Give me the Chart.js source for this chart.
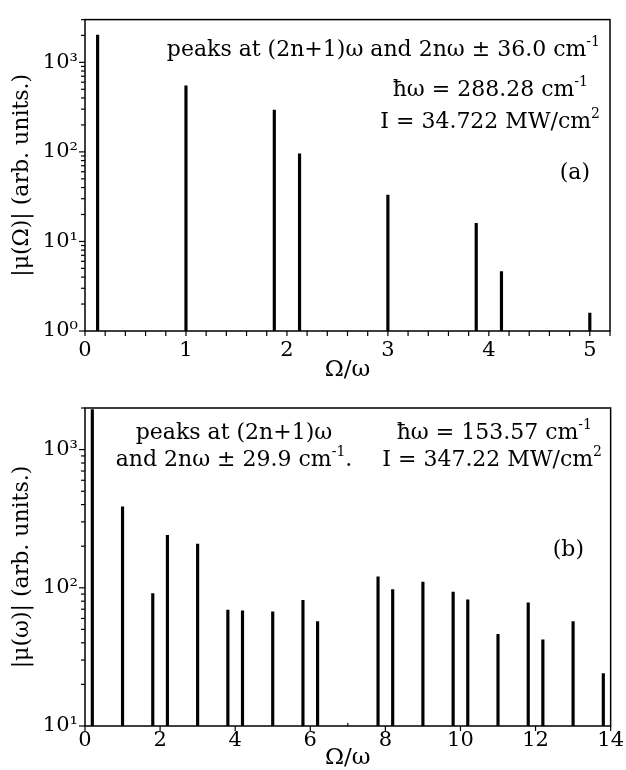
<!DOCTYPE html>
<html>
<head>
<meta charset="utf-8">
<script src="https://cdn.jsdelivr.net/npm/chart.js@4.4.1/dist/chart.umd.min.js"></script>
<style>
  html, body { margin: 0; padding: 0; background: #fff; }
  canvas { position: absolute; left: 0; }
  #chartA { top: 0; }
  #chartB { top: 385px; }
</style>
</head>
<body>
<canvas id="chartA" width="626" height="385"></canvas>
<canvas id="chartB" width="626" height="385"></canvas>
<script>
// panel (a): peak positions (Omega/omega) and heights |mu|
const peaksA = [0.125, 1, 1.875, 2.125, 3, 3.875, 4.125, 5];
const heightsA = [2020, 545, 293, 95, 33, 15.9, 4.6, 1.59];
const xTicksA = [0, 1, 2, 3, 4, 5];
const yTicksA = [1, 10, 100, 1000];
const yLabelsA = ["10⁰", "10¹", "10²", "10³"];

// panel (b)
const peaksB = [0.195, 1, 1.805, 2.195, 3, 3.805, 4.195, 5, 5.805, 6.195,
                7.805, 8.195, 9, 9.805, 10.195, 11, 11.805, 12.195, 13, 13.805];
const heightsB = [1950, 385, 91, 240, 207, 69, 68, 67, 81, 57,
                  120, 97, 110, 93, 82, 46, 78, 42, 57, 24];
const xTicksB = [0, 2, 4, 6, 8, 10, 12, 14];
const yTicksB = [10, 100, 1000];
const yLabelsB = ["10¹", "10²", "10³"];

const FONT = "'DejaVu Serif', 'Liberation Serif', serif";

// draws text with ^{...} superscripts
function drawRich(ctx, text, x, y, align, size) {
  const parts = [];
  text.split(/(\^\{[^}]*\})/).forEach(s => {
    if (!s) return;
    if (s.startsWith("^{")) parts.push({ t: s.slice(2, -1), sup: true });
    else parts.push({ t: s, sup: false });
  });
  const supSize = Math.round(size * 0.62);
  let w = 0;
  parts.forEach(p => {
    ctx.font = (p.sup ? supSize : size) + "px " + FONT;
    p.w = ctx.measureText(p.t).width;
    w += p.w;
  });
  let cx = align === "right" ? x - w : align === "center" ? x - w / 2 : x;
  ctx.textAlign = "left";
  ctx.textBaseline = "middle";
  parts.forEach(p => {
    ctx.font = (p.sup ? supSize : size) + "px " + FONT;
    ctx.fillText(p.t, cx, p.sup ? y - size * 0.36 : y);
    cx += p.w;
  });
}

const framePlugin = {
  id: "frame",
  afterDraw(chart, args, p) {
    const { ctx, chartArea: a } = chart;
    const xs = chart.scales.x, ys = chart.scales.y;
    ctx.save();
    ctx.strokeStyle = "#000";
    ctx.fillStyle = "#000";

    // x ticks, hanging below the axis
    ctx.lineWidth = 1.2;
    for (let k = 0; k * p.minorStep <= p.xMax + 1e-9; k++) {
      const v = k * p.minorStep;
      const px = xs.getPixelForValue(v);
      const major = Math.abs(v / p.majorStep - Math.round(v / p.majorStep)) < 1e-6;
      ctx.beginPath();
      if (major || p.minorOut) {
        ctx.moveTo(px, a.bottom);
        ctx.lineTo(px, a.bottom + 5);
      } else {
        ctx.moveTo(px, a.bottom);
        ctx.lineTo(px, a.bottom - 3);
      }
      ctx.stroke();
    }
    // y ticks (log), pointing outward
    for (let d = Math.floor(Math.log10(p.yMin)); d <= Math.ceil(Math.log10(p.yMax)); d++) {
      for (let m = 1; m <= 9; m++) {
        const v = m * Math.pow(10, d);
        if (v < p.yMin * 0.999 || v > p.yMax) continue;
        const py = ys.getPixelForValue(v);
        ctx.beginPath();
        ctx.moveTo(a.left, py);
        ctx.lineTo(a.left - (m === 1 ? 6 : 4), py);
        ctx.stroke();
      }
    }

    // frame
    ctx.lineWidth = 1.5;
    ctx.strokeRect(a.left, a.top, a.right - a.left, a.bottom - a.top);

    // axis titles
    ctx.font = "23px " + FONT;
    ctx.textAlign = "center";
    ctx.textBaseline = "middle";
    ctx.fillText("Ω/ω", (a.left + a.right) / 2, p.xTitleY);
    ctx.save();
    ctx.translate(p.yTitleX, (a.top + a.bottom) / 2);
    ctx.rotate(-Math.PI / 2);
    ctx.font = "22px " + FONT;
    ctx.fillText(p.yTitle, 0, 0);
    ctx.restore();

    // annotations
    p.notes.forEach(n => drawRich(ctx, n.text, n.x, n.y, n.align, 22));
    ctx.restore();
  }
};

function makePanel(id, cfg) {
  return new Chart(document.getElementById(id), {
    type: "bar",
    data: {
      datasets: [{
        data: cfg.xs.map((x, i) => ({ x: x, y: cfg.ys[i] })),
        backgroundColor: "#000",
        borderWidth: 0,
        barThickness: 2.5
      }]
    },
    options: {
      responsive: false,
      animation: false,
      layout: { padding: { top: cfg.top, right: cfg.right, left: 0, bottom: 0 } },
      plugins: {
        legend: { display: false },
        tooltip: { enabled: false },
        frame: cfg.frame
      },
      scales: {
        x: {
          type: "linear",
          min: 0,
          max: cfg.frame.xMax,
          offset: false,
          grid: { display: false, drawTicks: false },
          border: { display: false },
          afterBuildTicks: s => { s.ticks = cfg.xTicks.map(v => ({ value: v })); },
          afterFit: s => { s.height = cfg.xAxisHeight; },
          ticks: {
            color: "#000",
            font: { family: FONT, size: 21 },
            padding: cfg.xTickPad,
            maxRotation: 0,
            autoSkip: false
          }
        },
        y: {
          type: "logarithmic",
          min: cfg.frame.yMin,
          max: cfg.frame.yMax,
          grid: { display: false, drawTicks: false },
          border: { display: false },
          afterBuildTicks: s => { s.ticks = cfg.yTicks.map(v => ({ value: v, major: true })); },
          afterFit: s => { s.width = 85; },
          ticks: {
            color: "#000",
            font: { family: FONT, size: 21 },
            padding: 7,
            callback: (v, i) => cfg.yLabels[i]
          }
        }
      }
    },
    plugins: [framePlugin]
  });
}

makePanel("chartA", {
  xs: peaksA, ys: heightsA, xTicks: xTicksA, yTicks: yTicksA, yLabels: yLabelsA,
  top: 13, right: 16, xAxisHeight: 54, xTickPad: 7,
  frame: {
    xMax: 5.2, yMin: 1, yMax: 3000, minorStep: 0.2, majorStep: 1, minorOut: true,
    xTitleY: 370, yTitleX: 22, yTitle: "|μ(Ω)| (arb. units.)",
    notes: [
      { text: "peaks at (2n+1)ω and 2nω ± 36.0 cm^{-1}", x: 600, y: 50, align: "right" },
      { text: "ħω = 288.28 cm^{-1}", x: 588, y: 90, align: "right" },
      { text: "I = 34.722 MW/cm^{2}", x: 600, y: 122, align: "right" },
      { text: "(a)", x: 590, y: 173, align: "right" }
    ]
  }
});

makePanel("chartB", {
  xs: peaksB, ys: heightsB, xTicks: xTicksB, yTicks: yTicksB, yLabels: yLabelsB,
  top: 23, right: 14, xAxisHeight: 44, xTickPad: 2,
  frame: {
    xMax: 14, yMin: 10, yMax: 2000, minorStep: 1, majorStep: 2, minorOut: false,
    xTitleY: 373, yTitleX: 22, yTitle: "|μ(ω)| (arb. units.)",
    notes: [
      { text: "peaks at (2n+1)ω", x: 234, y: 48, align: "center" },
      { text: "and 2nω ± 29.9 cm^{-1}.", x: 234, y: 75, align: "center" },
      { text: "ħω = 153.57 cm^{-1}", x: 592, y: 48, align: "right" },
      { text: "I = 347.22 MW/cm^{2}", x: 602, y: 75, align: "right" },
      { text: "(b)", x: 584, y: 165, align: "right" }
    ]
  }
});
</script>
</body>
</html>
